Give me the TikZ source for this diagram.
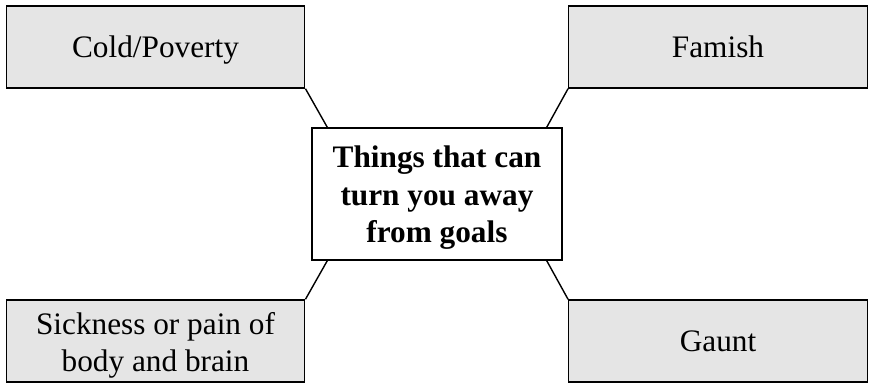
\documentclass[tikz,border=0pt]{standalone}
\usepackage{fontspec}
\setmainfont{Liberation Serif}
\usepackage{tikz}
\usetikzlibrary{calc}
\def\lift#1{\rule{0pt}{#1}}

\begin{document}
\begin{tikzpicture}[
		greybox/.style={draw, line width=0.8pt, fill=black!10, minimum width=5.97cm, minimum height=1.64cm, align=center, inner sep=0pt, font=\fontsize{17.8}{21}\selectfont},
		oneline/.style={text height=11.8pt, text depth=0pt},
		mainbox/.style={draw, line width=0.8pt, fill=white, minimum width=5.0cm, minimum height=2.64cm, align=center, inner sep=0pt, font=\fontsize{17.8}{21.3}\selectfont\bfseries},
		link/.style={line width=0.8pt}
	]
		%%%%% START %%%%%
		
		\useasboundingbox (0, 0) rectangle (17.38, 7.66);
		
		\node[mainbox] (goals) at (8.74, 3.78) {\lift{16.7pt}Things that can\\turn you away\\from goals};
		
		\node[greybox, oneline] (cold) at (3.11, 6.72) {Cold/Poverty};
		\node[greybox, oneline] (famish) at (14.36, 6.72) {Famish};
		\node[greybox] (sick) at (3.11, 0.84) {\lift{17.7pt}Sickness or pain of\\body and brain};
		\node[greybox, oneline] (gaunt) at (14.36, 0.84) {Gaunt};
		
		\draw[link] (cold.south east) -- ([xshift=0.32cm]goals.north west);
		\draw[link] (famish.south west) -- ([xshift=-0.32cm]goals.north east);
		\draw[link] (sick.north east) -- ([xshift=0.32cm]goals.south west);
		\draw[link] (gaunt.north west) -- ([xshift=-0.32cm]goals.south east);
		
		%%%%% END %%%%%
	\end{tikzpicture}
\end{document}
